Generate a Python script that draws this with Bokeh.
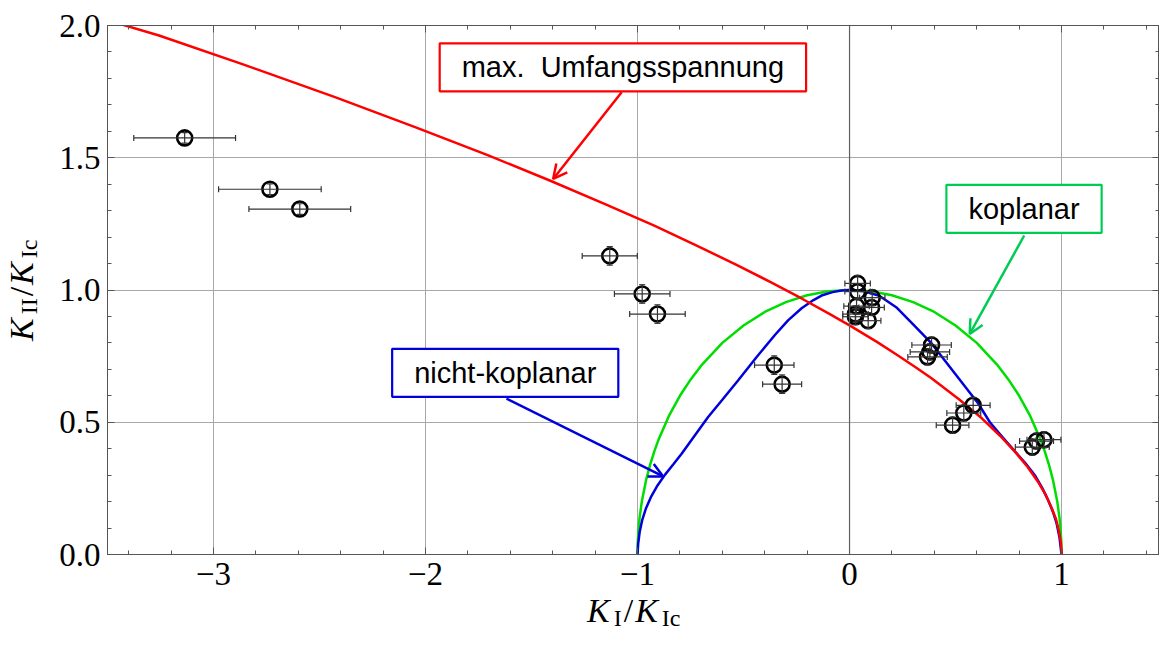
from bokeh.plotting import figure
from bokeh.layouts import row, column
from bokeh.models import (Range1d, LinearAxis, SingleIntervalTicker, Label, Arrow,
                          OpenHead, Whisker, TeeHead, ColumnDataSource, Span, Div)
from bokeh.embed import file_html
from bokeh.resources import INLINE

# --- criterion curves (K_I/K_Ic, K_II/K_Ic) ---
# maximum tangential stress criterion
red_x = [1.0, 0.9996, 0.997, 0.988, 0.974, 0.952, 0.924, 0.887, 0.840, 0.782, 0.711,
         0.624, 0.516, 0.385, 0.308, 0.223, 0.129, 0.0, -0.093, -0.224, -0.370, -0.533,
         -0.716, -0.921, -1.153, -1.414, -1.710, -2.046, -2.427, -2.864, -3.257, -3.50]
red_y = [0.0, 0.0175, 0.044, 0.088, 0.133, 0.179, 0.227, 0.277, 0.331, 0.387, 0.448,
         0.515, 0.587, 0.667, 0.710, 0.755, 0.804, 0.866, 0.909, 0.967, 1.029, 1.095,
         1.166, 1.243, 1.325, 1.414, 1.511, 1.615, 1.729, 1.854, 1.962, 2.02]

# coplanar growth
green_x = [-1.0, -0.999, -0.995, -0.99, -0.98, -0.96, -0.94, -0.92, -0.9, -0.85, -0.8,
           -0.75, -0.7, -0.6, -0.5, -0.4, -0.3, -0.2, -0.1, 0.0, 0.1, 0.2, 0.3, 0.4,
           0.5, 0.6, 0.7, 0.75, 0.8, 0.85, 0.9, 0.92, 0.94, 0.96, 0.98, 0.99, 0.995,
           0.999, 1.0]
green_y = [0.0, 0.045, 0.100, 0.141, 0.199, 0.280, 0.341, 0.392, 0.436, 0.527, 0.600,
           0.661, 0.714, 0.800, 0.866, 0.917, 0.954, 0.980, 0.995, 1.0, 0.995, 0.980,
           0.954, 0.917, 0.866, 0.800, 0.714, 0.661, 0.600, 0.527, 0.436, 0.392, 0.341,
           0.280, 0.199, 0.141, 0.100, 0.045, 0.0]

# non-coplanar growth
blue_x = [-1.0, -0.997, -0.99, -0.978, -0.96, -0.935, -0.905, -0.87, -0.83, -0.792,
          -0.73, -0.667, -0.6, -0.525, -0.44, -0.352, -0.29, -0.226, -0.17, -0.132,
          -0.08, -0.038, 0.0, 0.07, 0.14, 0.22, 0.30, 0.387, 0.497, 0.607, 0.662, 0.72,
          0.78, 0.83, 0.874, 0.91, 0.937, 0.96, 0.976, 0.99, 1.0]
blue_y = [0.0, 0.04, 0.085, 0.13, 0.175, 0.22, 0.262, 0.302, 0.342, 0.381, 0.45,
          0.52, 0.585, 0.659, 0.745, 0.830, 0.885, 0.931, 0.962, 0.979, 0.992, 0.998,
          1.0, 0.995, 0.978, 0.935, 0.87, 0.798, 0.684, 0.571, 0.5, 0.445, 0.39,
          0.345, 0.30, 0.25, 0.205, 0.16, 0.12, 0.066, 0.0]

# --- measurements with uncertainties ---
meas_x = [-3.136, -2.734, -2.593, -1.131, -0.978, -0.906, -0.355, -0.318,
          0.038, 0.038, 0.107, 0.033, 0.104, 0.028, 0.028, 0.088,
          0.387, 0.379, 0.368, 0.583, 0.539, 0.486, 0.917, 0.882, 0.862]
meas_y = [1.575, 1.381, 1.306, 1.129, 0.985, 0.909, 0.716, 0.644,
          1.025, 0.994, 0.971, 0.939, 0.934, 0.909, 0.899, 0.884,
          0.792, 0.766, 0.747, 0.564, 0.535, 0.489, 0.434, 0.429, 0.406]
meas_xerr = [0.24, 0.242, 0.24, 0.13, 0.131, 0.131, 0.093, 0.092,
             0.06, 0.06, 0.06, 0.06, 0.06, 0.06, 0.06, 0.06,
             0.093, 0.093, 0.093, 0.08, 0.08, 0.077, 0.08, 0.08, 0.08]
meas_yerr = [0.02, 0.02, 0.02, 0.035, 0.035, 0.035, 0.035, 0.035,
             0.03, 0.03, 0.03, 0.03, 0.03, 0.03, 0.03, 0.03,
             0.03, 0.03, 0.03, 0.03, 0.03, 0.03, 0.03, 0.03, 0.03]

x_tick_labels = {-3: "\u22123", -2: "\u22122", -1: "\u22121", 0: "0", 1: "1"}
y_tick_labels = {0: "0.0", 0.5: "0.5", 1: "1.0", 1.5: "1.5", 2: "2.0"}

RED = "#ff0000"
GREEN = "#00dd00"
GREEN_NOTE = "#00cc55"
BLUE = "#0000dd"
FRAME = "#555555"
SERIF = "Liberation Serif"
SANS = "Liberation Sans"

TITLE_W = 50      # width of the strip holding the vertical axis title
TITLE_H = 52      # height of the strip holding the horizontal axis title

p = figure(frame_width=1052, frame_height=529,
           x_range=Range1d(-3.5, 1.462), y_range=Range1d(0, 2.0),
           output_backend="svg", toolbar_location=None,
           min_border_left=107 - TITLE_W, min_border_top=25,
           min_border_bottom=98 - TITLE_H, min_border_right=0,
           background_fill_color="white", border_fill_color="white")
p.outline_line_color = FRAME
p.outline_line_width = 1

xticker = SingleIntervalTicker(interval=1, num_minor_ticks=5)
yticker = SingleIntervalTicker(interval=0.5, num_minor_ticks=5)


def style_axis(ax, labels=None):
    ax.axis_line_color = FRAME
    ax.major_tick_line_color = FRAME
    ax.minor_tick_line_color = FRAME
    ax.major_tick_in = 7
    ax.major_tick_out = 0
    ax.minor_tick_in = 4
    ax.minor_tick_out = 0
    if labels is None:
        # tick marks only, no numbers
        ax.major_label_text_alpha = 0
        ax.major_label_text_font_size = "1px"
        ax.major_label_standoff = 0
    else:
        ax.major_label_overrides = labels
        ax.major_label_text_font = SERIF
        ax.major_label_text_font_size = "33px"
        ax.major_label_text_color = "black"


xa = p.xaxis[0]
xa.ticker = xticker
style_axis(xa, x_tick_labels)
xa.major_label_standoff = 8

ya = p.yaxis[0]
ya.ticker = yticker
style_axis(ya, y_tick_labels)
ya.major_label_standoff = 7

top_ax = LinearAxis(ticker=SingleIntervalTicker(interval=1, num_minor_ticks=5))
style_axis(top_ax)
p.add_layout(top_ax, "above")
right_ax = LinearAxis(ticker=SingleIntervalTicker(interval=0.5, num_minor_ticks=5))
style_axis(right_ax)
p.add_layout(right_ax, "right")

p.xgrid.ticker = xticker
p.ygrid.ticker = yticker
p.xgrid.grid_line_color = "#a8a8a8"
p.ygrid.grid_line_color = "#a8a8a8"

# vertical axis line through the origin
p.add_layout(Span(location=0, dimension="height", line_color="#606060", line_width=1.2))

# curves
p.line(green_x, green_y, line_color=GREEN, line_width=2.5)
p.line(blue_x, blue_y, line_color=BLUE, line_width=2.5)
p.line(red_x, red_y, line_color=RED, line_width=2.5)

# error bars
src = ColumnDataSource(dict(
    x=meas_x, y=meas_y,
    xl=[a - e for a, e in zip(meas_x, meas_xerr)],
    xu=[a + e for a, e in zip(meas_x, meas_xerr)],
    yl=[a - e for a, e in zip(meas_y, meas_yerr)],
    yu=[a + e for a, e in zip(meas_y, meas_yerr)],
))
for dim, base, lo, hi in (("width", "y", "xl", "xu"), ("height", "x", "yl", "yu")):
    p.add_layout(Whisker(source=src, base=base, lower=lo, upper=hi, dimension=dim,
                         line_color="#333333", line_width=1.2, level="glyph",
                         lower_head=TeeHead(size=6, line_color="#333333", line_width=1.2),
                         upper_head=TeeHead(size=6, line_color="#333333", line_width=1.2)))
p.scatter("x", "y", source=src, marker="circle", size=15, fill_alpha=0,
          line_color="black", line_width=2.6)

# callouts
notes = [
    ("max.\u00a0 Umfangsspannung", -1.069, 1.842, RED, (-1.075, 1.748, -1.398, 1.420)),
    ("nicht-koplanar", -1.624, 0.687, BLUE, (-1.618, 0.589, -0.879, 0.295)),
    ("koplanar", 0.823, 1.307, GREEN_NOTE, (0.824, 1.206, 0.567, 0.834)),
]
for text, lx, ly, col, (xs, ys, xe, ye) in notes:
    p.add_layout(Arrow(x_start=xs, y_start=ys, x_end=xe, y_end=ye,
                       line_color=col, line_width=2.5,
                       end=OpenHead(size=14, line_color=col, line_width=2.5)))
    p.add_layout(Label(x=lx, y=ly, text=text, text_font=SANS, text_font_size="29px",
                       text_align="center", text_baseline="middle", text_color="black",
                       background_fill_color="white", background_fill_alpha=1.0,
                       border_line_color=col, border_line_width=2.2,
                       padding=(22, 8)))

# axis titles: italic K with roman subscripts
FONT_CSS = ("font-family:'Liberation Serif',serif;font-size:34px;line-height:1;"
            "color:black;white-space:nowrap;")
SUB = ("<span style=\"font-size:24px;vertical-align:-4px;font-style:normal;"
       "margin-left:4px\">{}</span>")
SLASH = "<span style=\"margin:0 2px\">/</span>"
x_title_html = "<i>K</i>" + SUB.format("I") + SLASH + "<i>K</i>" + SUB.format("Ic")
y_title_html = "<i>K</i>" + SUB.format("II") + SLASH + "<i>K</i>" + SUB.format("Ic")

x_title = Div(width=1163 - TITLE_W, height=TITLE_H, margin=0,
              text=("<div style=\"position:absolute;left:{}px;top:-6px;{}\">{}</div>"
                    .format(587 - TITLE_W, FONT_CSS, x_title_html)))
y_title = Div(width=TITLE_W, height=652, margin=0,
              text=("<div style=\"position:absolute;left:0;top:0;transform-origin:0 0;"
                    "transform:translate(5px,341px) rotate(-90deg);{}\">{}</div>"
                    .format(FONT_CSS, y_title_html)))

layout = row(y_title, column(p, x_title, spacing=0), spacing=0)

open("out.html", "w").write(file_html(layout, INLINE))
